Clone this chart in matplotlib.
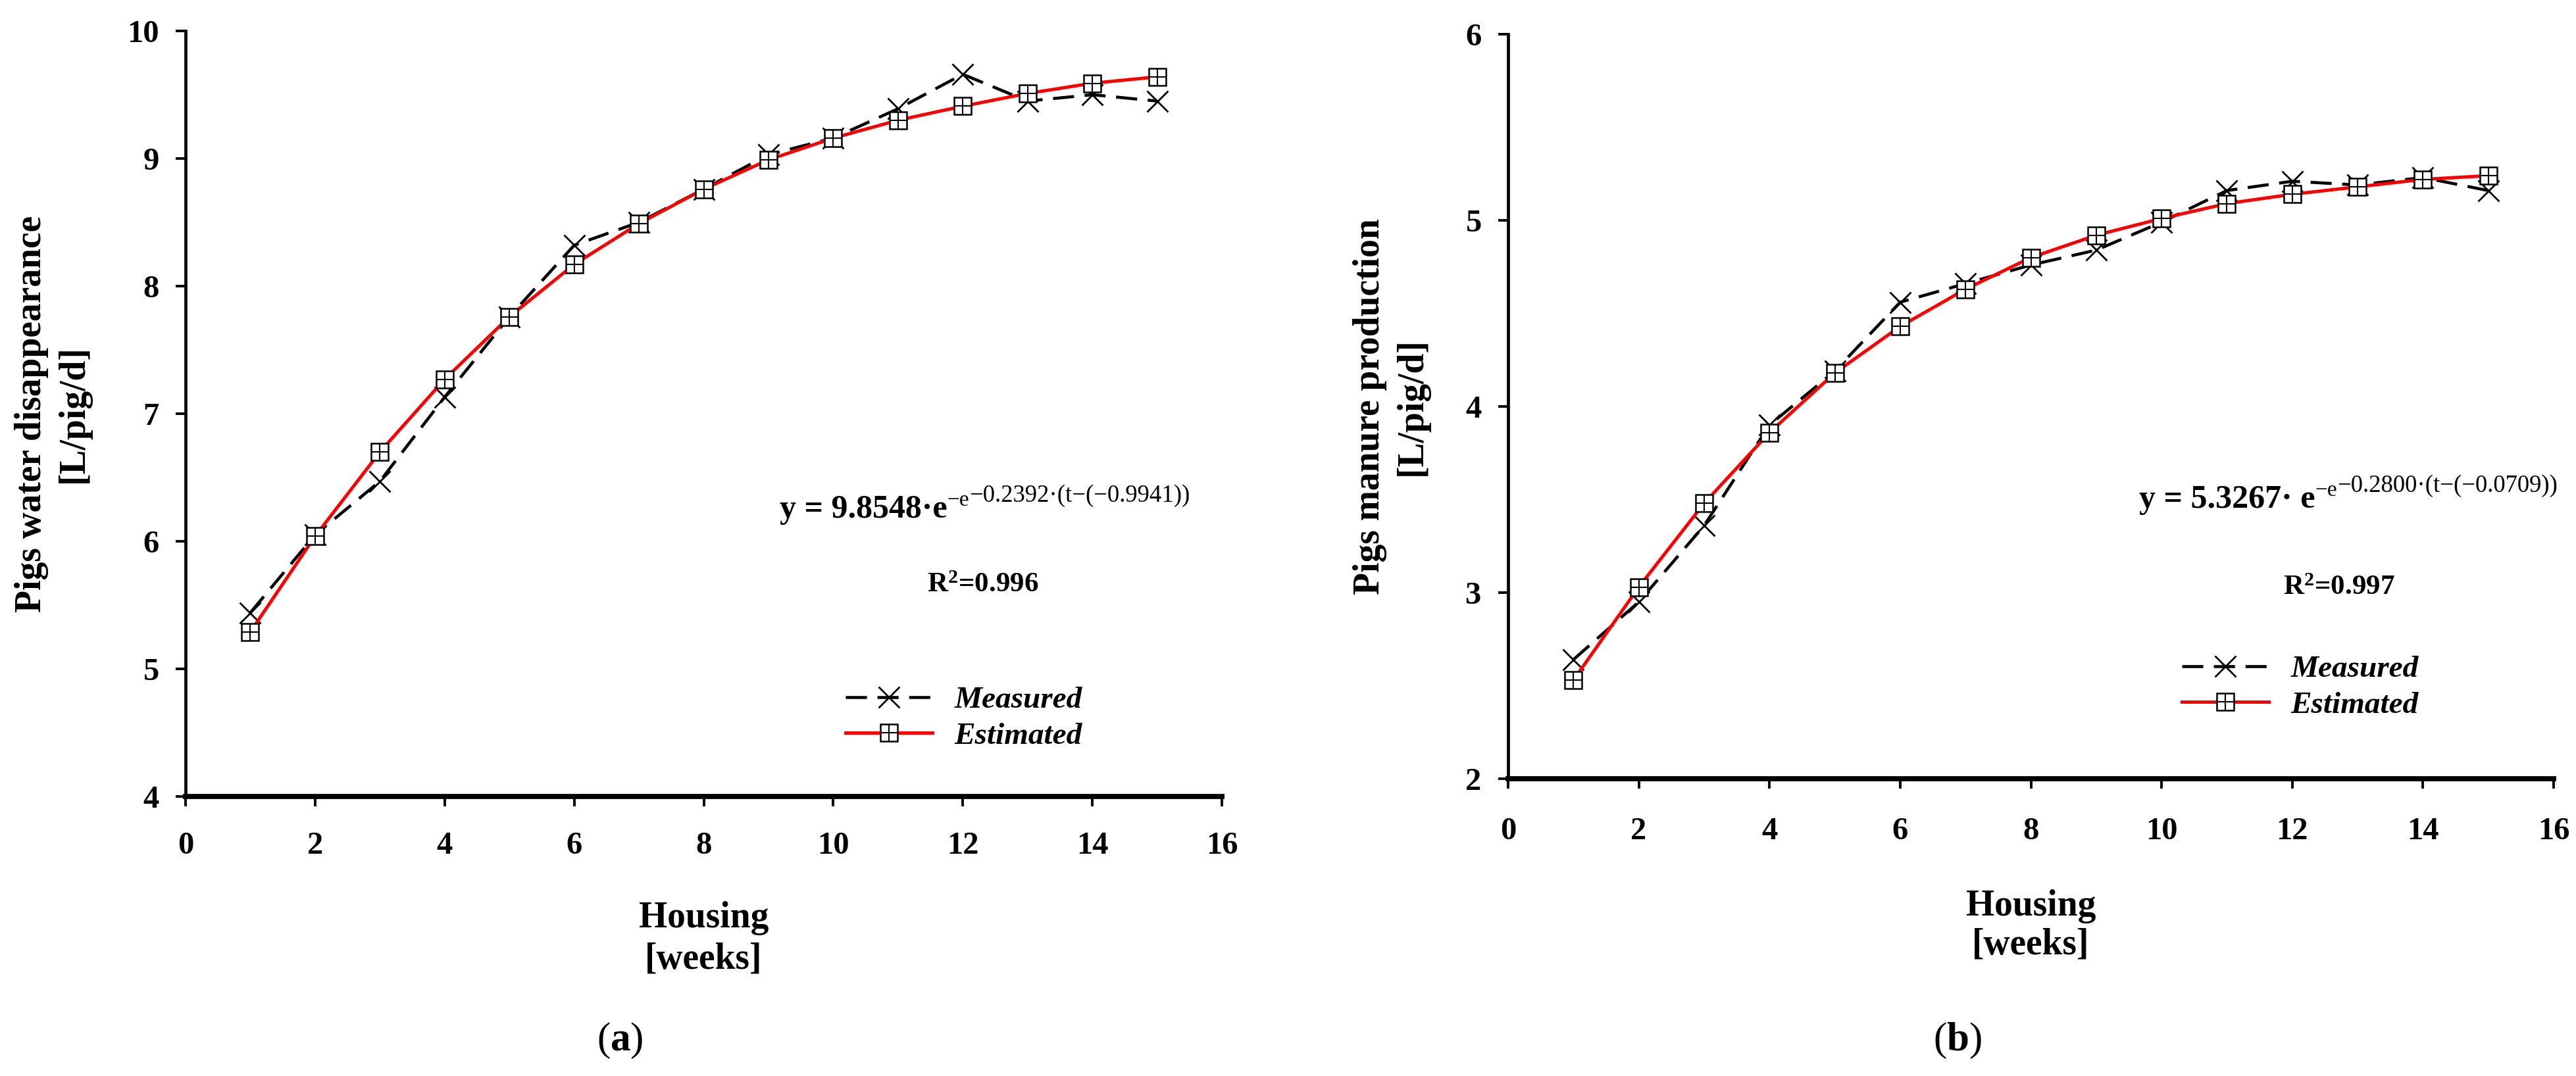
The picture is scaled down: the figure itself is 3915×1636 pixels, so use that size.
import matplotlib
matplotlib.use("Agg")
import matplotlib.pyplot as plt
from matplotlib.lines import Line2D
from matplotlib.legend_handler import HandlerTuple

plt.rcParams["font.family"] = ["Liberation Serif", "DejaVu Serif"]
plt.rcParams["mathtext.fontset"] = "custom"
plt.rcParams["mathtext.rm"] = "Liberation Serif:bold"
plt.rcParams["mathtext.bf"] = "Liberation Serif:bold"
plt.rcParams["mathtext.it"] = "Liberation Serif:italic:bold"

# data
weeks = list(range(1, 16))
water_measured = [5.44, 6.05, 6.47, 7.13, 7.76, 8.32, 8.50, 8.76, 9.03, 9.16, 9.39, 9.66, 9.45, 9.50, 9.45]
water_estimated = [5.29, 6.04, 6.70, 7.27, 7.76, 8.17, 8.49, 8.76, 8.99, 9.16, 9.30, 9.41, 9.51, 9.59, 9.64]
manure_measured = [2.64, 2.95, 3.36, 3.90, 4.19, 4.56, 4.66, 4.76, 4.84, 4.99, 5.16, 5.21, 5.19, 5.23, 5.16]
manure_estimated = [2.53, 3.03, 3.48, 3.86, 4.18, 4.43, 4.63, 4.80, 4.92, 5.01, 5.09, 5.14, 5.18, 5.22, 5.24]

water_fit = ["9.8548·e", "0.2392", "0.9941"]
manure_fit = ["5.3267· e", "0.2800", "0.0709"]
water_r2 = "0.996"
manure_r2 = "0.997"

xticks = [0, 2, 4, 6, 8, 10, 12, 14, 16]
water_yticks = [4, 5, 6, 7, 8, 9, 10]
manure_yticks = [2, 3, 4, 5, 6]

W, H = 3916, 1636
fig = plt.figure(figsize=(W / 100, H / 100), dpi=100)

DASH = (7, 3.5)


def px_axes(x0, x1, y_top, y_bot):
    return fig.add_axes([x0 / W, 1 - y_bot / H, (x1 - x0) / W, (y_bot - y_top) / H])


def draw_panel(ax, measured, estimated, yticks, ylabel, xpad, xlab_y, ylab_x, ylab_sp, xlab_sp):
    ax.plot(weeks, measured, color="black", lw=3.3, dashes=DASH, marker="x",
            markersize=23, markeredgewidth=2.0, zorder=3)
    ax.plot(weeks, estimated, color="#ff0000", lw=3.6, marker="s", markersize=19,
            markerfacecolor="white", markeredgecolor="black", markeredgewidth=1.8, zorder=4)
    ax.plot(weeks, estimated, ls="none", marker="+", markersize=19, color="black",
            markeredgewidth=1.5, zorder=5)

    ax.set_xlim(xticks[0], xticks[-1])
    ax.set_ylim(yticks[0], yticks[-1])
    ax.set_xticks(xticks)
    ax.set_yticks(yticks)
    for s in ["top", "right"]:
        ax.spines[s].set_visible(False)
    ax.spines["left"].set_linewidth(3.4)
    ax.spines["bottom"].set_linewidth(5.6)
    ax.tick_params(direction="out", length=11, width=2.8, labelsize=35)
    ax.tick_params(axis="y", pad=18)
    ax.tick_params(axis="x", pad=xpad)
    for lab in ax.get_xticklabels() + ax.get_yticklabels():
        lab.set_fontweight("bold")

    ax.set_xlabel("Housing\n[weeks]", fontsize=40, fontweight="bold", va="center",
                  linespacing=xlab_sp)
    ax.xaxis.set_label_coords(0.5, xlab_y)
    ax.set_ylabel(ylabel, fontsize=40, fontweight="bold", va="center", linespacing=ylab_sp)
    ax.yaxis.set_label_coords(ylab_x, 0.5)

    m = Line2D([], [], color="black", lw=3.3, dashes=DASH, marker="x",
               markersize=23, markeredgewidth=2.0)
    e1 = Line2D([], [], color="#ff0000", lw=3.6, marker="s", markersize=19,
                markerfacecolor="white", markeredgecolor="black", markeredgewidth=1.8)
    e2 = Line2D([], [], ls="none", marker="+", markersize=19, color="black", markeredgewidth=1.5)
    return [m, (e1, e2)]


def fit_label(x_px, base_px, fit, r2, r2_x, r2_base):
    r = fig.canvas.get_renderer()
    main = fig.text(x_px / W, 1 - base_px / H, "y = " + fit[0], fontsize=36,
                    fontweight="bold", va="baseline")
    bb = main.get_window_extent(r)
    sup1 = fig.text(bb.x1 / W, (H - base_px + 18) / H, "−e", fontsize=24, va="baseline")
    bb2 = sup1.get_window_extent(r)
    fig.text(bb2.x1 / W, (H - base_px + 24) / H, "−" + fit[1] + "·(t−(−" + fit[2] + "))",
             fontsize=26.5, va="baseline")
    fig.text(r2_x / W, 1 - r2_base / H, "R$^{2}$=" + r2, fontsize=31, fontweight="bold",
             ha="center", va="baseline")


ax_a = px_axes(282, 1857, 47, 1211)
ax_b = px_axes(2292, 3881, 52, 1184)

h_a = draw_panel(ax_a, water_measured, water_estimated, water_yticks,
                 "Pigs water disappearance\n[L/pig/d]", 27, -0.1856, -0.1283, 1.3, 1.27)
h_b = draw_panel(ax_b, manure_measured, manure_estimated, manure_yticks,
                 "Pigs manure production\n[L/pig/d]", 31, -0.1974, -0.1123, 1.3, 1.16)

leg_font = {"family": "Liberation Serif", "style": "italic", "weight": "bold", "size": 34}
for ax, h, xy in [(ax_a, h_a, (1285, 1092)), (ax_b, h_b, (3316, 1045))]:
    ax.legend(h, ["Measured", "Estimated"], handler_map={tuple: HandlerTuple(ndivide=1)},
              loc="center left", bbox_to_anchor=(xy[0] / W, 1 - xy[1] / H),
              bbox_transform=fig.transFigure, frameon=False, prop=leg_font,
              handlelength=2.8, handletextpad=0.7, labelspacing=0.25, borderpad=0,
              borderaxespad=0, numpoints=1)

fig.canvas.draw()
fit_label(1185, 787, water_fit, water_r2, 1494, 900)
fit_label(3251, 772, manure_fit, manure_r2, 3555, 904)

fig.text(942 / W, 1 - 1582 / H, r"($\mathbf{a}$)", fontsize=44, ha="center", va="center")
fig.text(2975 / W, 1 - 1582 / H, r"($\mathbf{b}$)", fontsize=44, ha="center", va="center")

fig.savefig("out.png", dpi=100, facecolor="white")
